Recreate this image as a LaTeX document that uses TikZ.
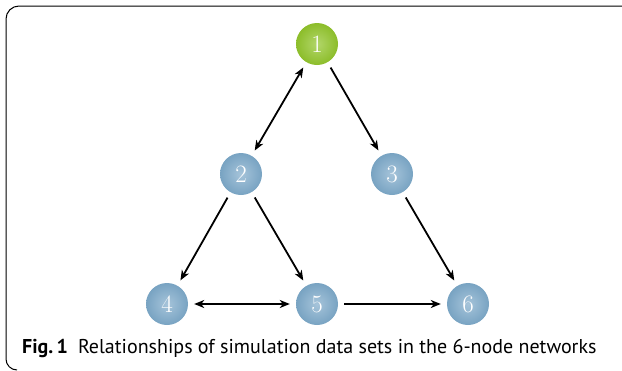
\documentclass[tikz,border=0pt]{standalone}
\usepackage{fontspec}
\newfontfamily\capfont{PT Sans}
\usetikzlibrary{arrows.meta}
\definecolor{greenball}{HTML}{8CBD2A}
\definecolor{greenlight}{HTML}{B2D66A}
\definecolor{blueball}{HTML}{78A3C2}
\definecolor{bluelight}{HTML}{A6C4DA}
\tikzset{
  netnode/.style={circle, minimum size=42pt, inner sep=0pt, text=white,
    font=\fontsize{25}{25}\selectfont},
  rootnode/.style={netnode, inner color=greenlight, outer color=greenball},
  leafnode/.style={netnode, inner color=bluelight, outer color=blueball},
  link/.style={line width=1.8pt, -{Stealth[length=10pt,width=8pt,inset=3pt]},
    shorten >=6pt, shorten <=6pt},
  twoway/.style={link, {Stealth[length=10pt,width=8pt,inset=3pt]}-{Stealth[length=10pt,width=8pt,inset=3pt]}},
  frame/.style={line width=1pt, black}
}
\begin{document}
\begin{tikzpicture}[x=1pt, y=-1pt]
  \useasboundingbox (0,0) rectangle (622,370);
  % rounded frame open to the right and bottom
  \draw[frame] (622,6) -- (19,6) arc[start angle=270, end angle=180, radius=13] -- (6,359)
    arc[start angle=180, end angle=90, radius=11];
  % network nodes
  \node[rootnode] (n1) at (317,44) {1};
  \node[leafnode] (n2) at (241,174) {2};
  \node[leafnode] (n3) at (392,174) {3};
  \node[leafnode] (n4) at (167,304) {4};
  \node[leafnode] (n5) at (317,304) {5};
  \node[leafnode] (n6) at (468,304) {6};
  % relationships
  \draw[twoway] (n1) -- (n2);
  \draw[link] (n1) -- (n3);
  \draw[link] (n2) -- (n4);
  \draw[link] (n2) -- (n5);
  \draw[link] (n3) -- (n6);
  \draw[twoway] (n4) -- (n5);
  \draw[link] (n5) -- (n6);
  % caption
  \node[anchor=base west, inner sep=0pt, font=\capfont\fontsize{20}{20}\selectfont] (cap) at (22,353)
    {\textbf{Fig.\,1}\hspace{10pt}Relationships of simulation data sets in the 6-node networks};
\end{tikzpicture}
\end{document}
